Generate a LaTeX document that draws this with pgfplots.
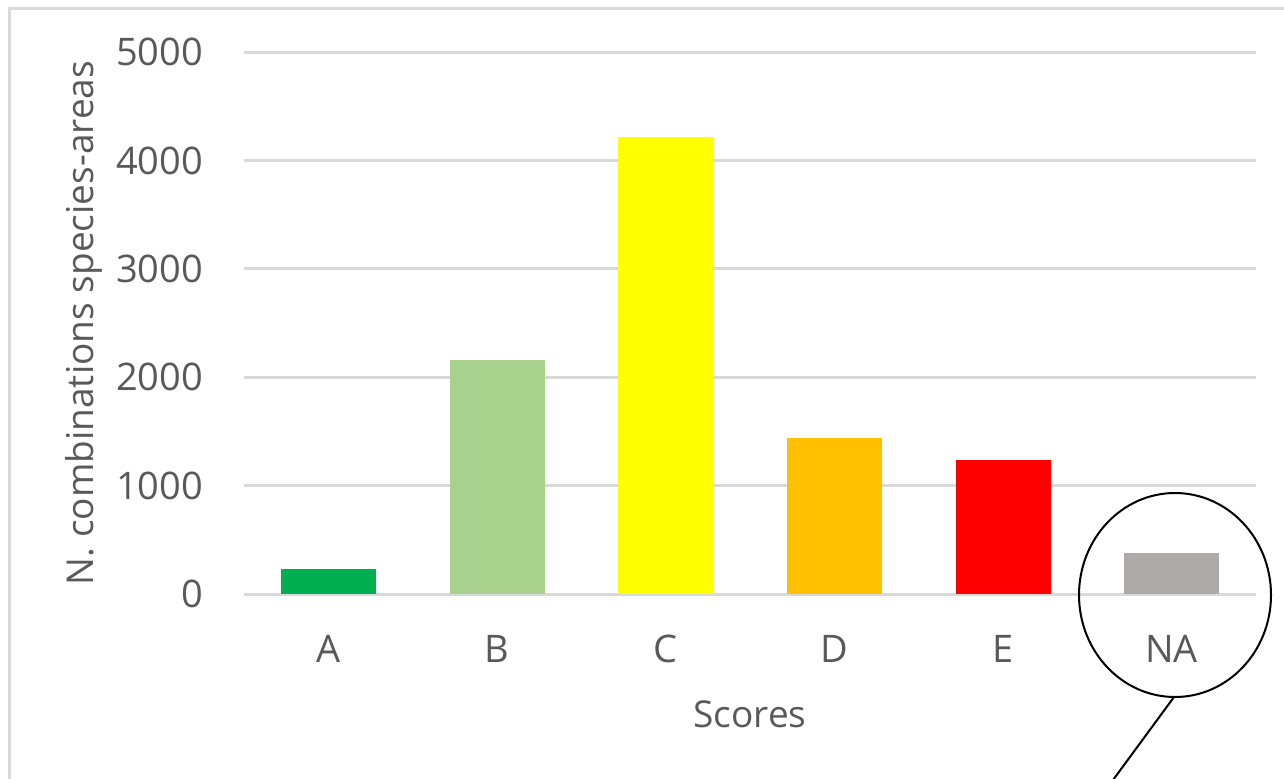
\documentclass[border=0pt]{standalone}
\usepackage{pgfplots}
\pgfplotsset{compat=1.18}
\usepackage{fontspec}
\setmainfont{Open Sans}

\definecolor{txtgray}{HTML}{595959}
\definecolor{gridgray}{HTML}{D9D9D9}
\definecolor{cA}{HTML}{00B050}
\definecolor{cB}{HTML}{A9D18E}
\definecolor{cC}{HTML}{FFFF00}
\definecolor{cD}{HTML}{FFC000}
\definecolor{cE}{HTML}{FF0000}
\definecolor{cNA}{HTML}{AEAAAA}

\begin{document}
\begin{tikzpicture}[x=0.5pt,y=0.5pt]
\useasboundingbox (0,0) rectangle (1284,778);
% chart area frame (runs off the page on the right and at the bottom)
\begin{scope}
\clip (0,0) rectangle (1284,778);
\draw[gridgray, line width=1.5pt] (9,-20) -- (9,769) -- (1300,769);
\end{scope}
\begin{axis}[
    at={(122pt,92pt)}, anchor=south west,
    scale only axis,
    width=506pt, height=271pt,
    xmin=-0.5, xmax=5.5,
    ymin=0, ymax=5000,
    xtick={0,1,2,3,4,5},
    xticklabels={A,B,C,D,E,NA},
    ytick={0,1000,2000,3000,4000,5000},
    axis line style={draw=none},
    major tick length=0pt,
    ymajorgrids,
    grid style={gridgray, line width=1.5pt},
    tick label style={font=\fontsize{19}{22}\selectfont, text=txtgray},
    /pgf/number format/assume math mode=true,
    /pgf/number format/1000 sep={},
    yticklabel style={xshift=-17pt},
    xticklabel style={yshift=-17pt},
    xlabel={Scores},
    ylabel={N. combinations species-areas},
    label style={font=\fontsize{18.5}{22}\selectfont, text=txtgray},
    xlabel style={yshift=-12pt},
    ylabel style={yshift=0pt},
    clip=false,
]
\addplot[ybar, bar width=47.5pt, draw=none, fill=cA] coordinates {(0,230)};
\addplot[ybar, bar width=47.5pt, draw=none, fill=cB] coordinates {(1,2155)};
\addplot[ybar, bar width=47.5pt, draw=none, fill=cC] coordinates {(2,4220)};
\addplot[ybar, bar width=47.5pt, draw=none, fill=cD] coordinates {(3,1440)};
\addplot[ybar, bar width=47.5pt, draw=none, fill=cE] coordinates {(4,1235)};
\addplot[ybar, bar width=47.5pt, draw=none, fill=cNA] coordinates {(5,375)};
\end{axis}
% callout ellipse around NA
\draw[black, line width=1pt] (1175,183) ellipse [x radius=96, y radius=102];
\draw[black, line width=1pt] (1174,81) -- (1113,-2);
\end{tikzpicture}
\end{document}
